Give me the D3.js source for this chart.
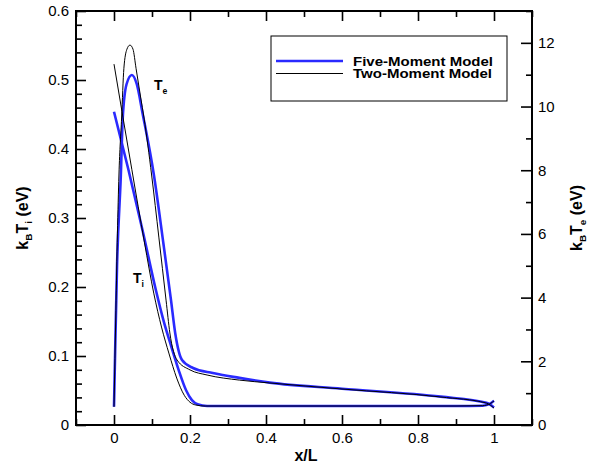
<!DOCTYPE html>
<html>
<head>
<meta charset="utf-8">
<script src="https://cdn.jsdelivr.net/npm/d3@7"></script>
<style>
	body { margin: 0; background: #fff; }
	svg { display: block; font-family: Arial, "Liberation Sans", Helvetica, sans-serif; }
</style>
</head>
<body>
<svg id="chart" width="594" height="468"></svg>
<script>
// axis ticks
var xTicks = [0, 0.2, 0.4, 0.6, 0.8, 1];
var xMinorTicks = [-0.1, 0.1, 0.3, 0.5, 0.7, 0.9, 1.1];
var tiTicks = [0, 0.1, 0.2, 0.3, 0.4, 0.5, 0.6];
var teTicks = [0, 2, 4, 6, 8, 10, 12];
var teMinorTicks = [1, 3, 5, 7, 9, 11, 13];

var legendNames = ["Five-Moment Model", "Two-Moment Model"];

// ion temperature (left axis, eV)
var fiveTiX = [0, 0.038, 0.076, 0.11, 0.13, 0.15, 0.17, 0.19, 0.205, 0.22, 0.245, 0.3, 0.6, 0.9, 0.97, 0.99, 1.0];
var fiveTiY = [0.454, 0.37, 0.28, 0.196, 0.152, 0.115, 0.08, 0.05, 0.036, 0.03, 0.0275, 0.0275, 0.0275, 0.0275, 0.028, 0.031, 0.035];
var twoTiX = [0, 0.047, 0.08, 0.105, 0.125, 0.145, 0.165, 0.185, 0.2, 0.215, 0.24, 0.3, 0.6, 0.9, 0.97, 0.99, 1.0];
var twoTiY = [0.523, 0.37, 0.265, 0.19, 0.142, 0.103, 0.068, 0.043, 0.033, 0.029, 0.0275, 0.0275, 0.0275, 0.0275, 0.028, 0.031, 0.035];

// electron temperature (right axis, eV)
var fiveTeX = [0, 0.003, 0.008, 0.018, 0.023, 0.033, 0.047, 0.06, 0.075, 0.105, 0.13, 0.15, 0.161, 0.179, 0.208, 0.26, 0.33, 0.41, 0.6, 0.86, 0.98, 1.0];
var fiveTeY = [0.57, 2.3, 5.0, 7.85, 9.64, 10.7, 10.99, 10.7, 9.8, 7.85, 5.7, 3.92, 2.89, 2.04, 1.79, 1.63, 1.48, 1.33, 1.14, 0.89, 0.7, 0.55];
var twoTeX = [0, 0.005, 0.009, 0.013, 0.02, 0.026, 0.034, 0.042, 0.05, 0.058, 0.07, 0.079, 0.099, 0.118, 0.137, 0.147, 0.166, 0.2, 0.245, 0.33, 0.41, 0.6, 0.86, 0.98, 1.0];
var twoTeY = [0.57, 3.6, 6.0, 7.85, 9.64, 11.2, 11.8, 11.93, 11.8, 11.2, 10.3, 9.64, 7.85, 5.9, 3.92, 2.89, 2.04, 1.73, 1.57, 1.41, 1.32, 1.13, 0.88, 0.69, 0.53];

var blue = "#2a2aff";

var svg = d3.select("#chart");
var frame = { left: 76, right: 532, top: 11, bottom: 425 };

var x = d3.scaleLinear().domain([-0.1, 1.1]).range([frame.left, frame.right]);
var yTi = d3.scaleLinear().domain([0, 0.6]).range([frame.bottom, frame.top]);
var yTe = d3.scaleLinear().domain([0, 13]).range([frame.bottom, frame.top]);

svg.append("clipPath").attr("id", "plot-clip")
	.append("rect")
	.attr("x", frame.left).attr("y", frame.top)
	.attr("width", frame.right - frame.left).attr("height", frame.bottom - frame.top);

function pairs( xs, ys ) {
	return xs.map(function(d, i) { return [d, ys[i]]; });
}

function fmtTi( d ) {
	return d === 0 ? "0" : d3.format(".1f")(d);
}

function styleAxis( g ) {
	g.select(".domain").remove();
	g.selectAll(".tick line").attr("stroke", "#000").attr("stroke-width", 1.6);
	g.selectAll(".tick text").attr("font-size", 15).attr("fill", "#000")
		.attr("font-family", "Arial, 'Liberation Sans', sans-serif");
}

var tiMinor = d3.range(1, 30).map(function(i) { return i * 0.02; })
	.filter(function(d, i) { return (i + 1) % 5 !== 0; });

// left axis
svg.append("g").attr("transform", "translate(" + frame.left + ",0)")
	.call(d3.axisLeft(yTi).tickValues(tiTicks).tickSize(-10).tickPadding(7).tickFormat(fmtTi))
	.call(styleAxis);
svg.append("g").attr("transform", "translate(" + frame.left + ",0)")
	.call(d3.axisLeft(yTi).tickValues(tiMinor).tickSize(-6).tickFormat(""))
	.call(styleAxis);

// right axis
svg.append("g").attr("transform", "translate(" + frame.right + ",0)")
	.call(d3.axisRight(yTe).tickValues(teTicks).tickSize(-11).tickPadding(6))
	.call(styleAxis);
svg.append("g").attr("transform", "translate(" + frame.right + ",0)")
	.call(d3.axisRight(yTe).tickValues(teMinorTicks).tickSize(-6).tickFormat(""))
	.call(styleAxis);

// bottom + top axes
svg.append("g").attr("transform", "translate(0," + frame.bottom + ")")
	.call(d3.axisBottom(x).tickValues(xTicks).tickSize(-10).tickPadding(7).tickFormat(d3.format("")))
	.call(styleAxis);
svg.append("g").attr("transform", "translate(0," + frame.bottom + ")")
	.call(d3.axisBottom(x).tickValues(xMinorTicks).tickSize(-6).tickFormat(""))
	.call(styleAxis);
svg.append("g").attr("transform", "translate(0," + frame.top + ")")
	.call(d3.axisTop(x).tickValues(xTicks).tickSize(-10).tickFormat(""))
	.call(styleAxis);
svg.append("g").attr("transform", "translate(0," + frame.top + ")")
	.call(d3.axisTop(x).tickValues(xMinorTicks).tickSize(-6).tickFormat(""))
	.call(styleAxis);

// curves
var lineTi = d3.line().x(function(d) { return x(d[0]); }).y(function(d) { return yTi(d[1]); })
	.curve(d3.curveMonotoneX);
var lineTe = d3.line().x(function(d) { return x(d[0]); }).y(function(d) { return yTe(d[1]); })
	.curve(d3.curveMonotoneX);

var plot = svg.append("g").attr("clip-path", "url(#plot-clip)");

var curves = [
	{ data: pairs(fiveTiX, fiveTiY), line: lineTi, color: blue, width: 2.6 },
	{ data: pairs(fiveTeX, fiveTeY), line: lineTe, color: blue, width: 2.6 },
	{ data: pairs(twoTiX, twoTiY), line: lineTi, color: "#000", width: 1 },
	{ data: pairs(twoTeX, twoTeY), line: lineTe, color: "#000", width: 1 }
];

plot.selectAll("path.curve")
	.data(curves)
	.enter().append("path")
	.attr("class", "curve")
	.attr("fill", "none")
	.attr("stroke", function(d) { return d.color; })
	.attr("stroke-width", function(d) { return d.width; })
	.attr("d", function(d) { return d.line(d.data); });

// frame
svg.append("rect")
	.attr("x", frame.left).attr("y", frame.top)
	.attr("width", frame.right - frame.left).attr("height", frame.bottom - frame.top)
	.attr("fill", "none").attr("stroke", "#000").attr("stroke-width", 2);

// text with subscripts
function subText( sel, parts, size ) {
	var shift = 0;
	parts.forEach(function(p) {
		var t = sel.append("tspan").text(p[0]);
		if (p[1]) {
			t.attr("font-size", size * 0.62).attr("dy", 4 - shift);
			shift = 4;
		} else {
			t.attr("dy", -shift);
			shift = 0;
		}
	});
}

svg.append("text")
	.attr("x", (frame.left + frame.right) / 2 + 2).attr("y", 461)
	.attr("text-anchor", "middle").attr("font-size", 16).attr("font-weight", "bold")
	.text("x/L");

var midY = (frame.top + frame.bottom) / 2;

var leftTitle = svg.append("text")
	.attr("transform", "translate(28," + midY + ") rotate(-90)")
	.attr("text-anchor", "middle").attr("font-size", 16).attr("font-weight", "bold");
subText(leftTitle, [["k", 0], ["B", 1], ["T", 0], ["i", 1], [" (eV)", 0]], 16);

var rightTitle = svg.append("text")
	.attr("transform", "translate(582," + midY + ") rotate(-90)")
	.attr("text-anchor", "middle").attr("font-size", 16).attr("font-weight", "bold");
subText(rightTitle, [["k", 0], ["B", 1], ["T", 0], ["e", 1], [" (eV)", 0]], 16);

// curve labels
var teLabel = svg.append("text").attr("x", x(0.105)).attr("y", yTe(10.52))
	.attr("font-size", 14).attr("font-weight", "bold");
subText(teLabel, [["T", 0], ["e", 1]], 14);
var tiLabel = svg.append("text").attr("x", x(0.05)).attr("y", yTi(0.206))
	.attr("font-size", 14).attr("font-weight", "bold");
subText(tiLabel, [["T", 0], ["i", 1]], 14);

// legend
var legend = svg.append("g").attr("transform", "translate(271,36)");
legend.append("rect")
	.attr("width", 236).attr("height", 65)
	.attr("fill", "#fff").attr("stroke", "#000").attr("stroke-width", 1);

var items = legend.selectAll("g.item")
	.data(legendNames)
	.enter().append("g")
	.attr("class", "item")
	.attr("transform", function(d, i) { return "translate(0," + (25 + i * 12.5) + ")"; });

items.append("line")
	.attr("x1", 5).attr("x2", 72)
	.attr("stroke", function(d, i) { return i === 0 ? blue : "#000"; })
	.attr("stroke-width", function(d, i) { return i === 0 ? 2.6 : 1; });

items.append("text")
	.attr("x", 82).attr("y", 4.5)
	.attr("font-size", 12).attr("font-weight", "bold")
	.attr("textLength", function(d, i) { return i === 0 ? 140 : 139; })
	.attr("lengthAdjust", "spacingAndGlyphs")
	.text(function(d) { return d; });
</script>
</body>
</html>
